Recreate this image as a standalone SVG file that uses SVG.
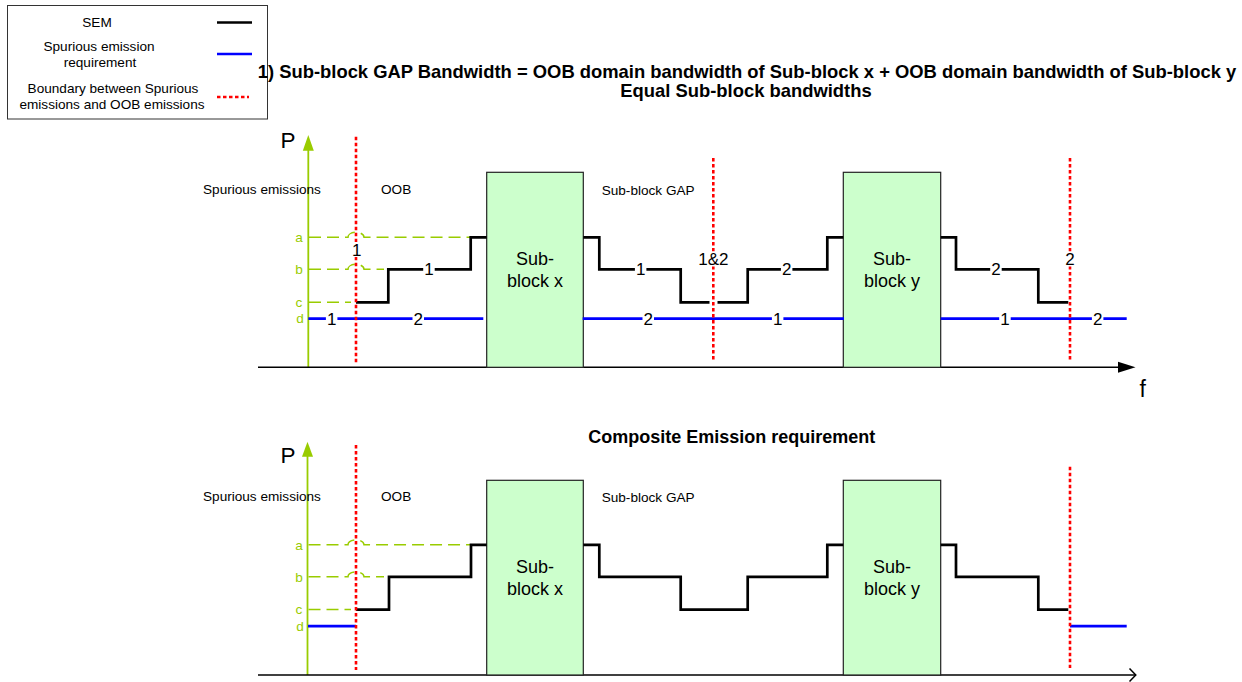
<svg xmlns="http://www.w3.org/2000/svg" width="1242" height="682" viewBox="0 0 1242 682">
<defs>
<style>
text{font-family:"Liberation Sans",Arial,sans-serif;fill:#000}
.lbl{font-size:13.6px}
.lg{font-size:13.6px;text-anchor:middle}
.ttl{font-size:18.4px;font-weight:bold;text-anchor:middle}
.blk{font-size:18px;text-anchor:middle}
.num{font-size:17px;text-anchor:middle}
.lvl{font-size:13.6px;fill:#99cc00;text-anchor:middle}
.ax{font-size:22.5px}
.sem{fill:none;stroke:#000;stroke-width:2.7}
.spur{fill:none;stroke:#0000ff;stroke-width:2.7}
.bnd{fill:none;stroke:#ff0000;stroke-width:2.6;stroke-dasharray:3.5 2.5}
.gd{fill:none;stroke:#99cc00;stroke-width:1.5;stroke-dasharray:12 6}
.gax{fill:none;stroke:#99cc00;stroke-width:1.8}
.xax{fill:none;stroke:#000;stroke-width:1.5}
.box{fill:#ccffcc;stroke:#222;stroke-width:1.2}
.wb{fill:#fff}
</style>
</defs>
<rect width="1242" height="682" fill="#fff"/>

<g id="legend">
<rect x="7.5" y="5.5" width="260" height="113.5" fill="#fff" stroke="#333" stroke-width="1"/>
<text class="lg" x="97" y="26.5">SEM</text>
<text class="lg" x="99" y="50.5">Spurious emission</text>
<text class="lg" x="100" y="66.7">requirement</text>
<text class="lg" x="113" y="93.2">Boundary between Spurious</text>
<text class="lg" x="112" y="109.2">emissions and OOB emissions</text>
<line class="sem" x1="217" y1="22.5" x2="252" y2="22.5"/>
<line class="spur" x1="217" y1="54" x2="252" y2="54"/>
<line class="bnd" x1="217" y1="97" x2="249" y2="97"/>
</g>

<g id="titles">
<text class="ttl" x="747" y="77.5">1) Sub-block GAP Bandwidth = OOB domain bandwidth of Sub-block x + OOB domain bandwidth of Sub-block y</text>
<text class="ttl" x="746" y="97">Equal Sub-block bandwidths</text>
<text class="ttl" x="731.7" y="443" style="font-size:18px">Composite Emission requirement</text>
</g>

<!-- ===== TOP CHART ===== -->
<g id="top-axes">
<line class="gax" x1="308.3" y1="148" x2="308.3" y2="367.3"/>
<polygon points="308.3,135 302.8,150.7 313.8,150.7" fill="#99cc00"/>
<line class="xax" x1="258" y1="367.3" x2="1120" y2="367.3"/>
<polygon points="1135.5,367.3 1118,361.8 1118,372.8" fill="#000"/>
<text class="ax" x="280.5" y="148.3">P</text>
<text class="ax" x="1139.5" y="397" style="font-size:23px">f</text>
<text class="lvl" x="299" y="242">a</text>
<text class="lvl" x="299" y="274">b</text>
<text class="lvl" x="299" y="307">c</text>
<text class="lvl" x="300" y="323.4">d</text>
</g>

<g id="top-regions">
<text class="lbl" x="203" y="193.5">Spurious emissions</text>
<text class="lbl" x="381" y="193.5">OOB</text>
<text class="lbl" x="601.7" y="195">Sub-block GAP</text>
</g>

<g id="top-block-x">
<rect class="box" x="486.7" y="172.3" width="96.6" height="195"/>
<text class="blk" x="535" y="265">Sub-</text>
<text class="blk" x="535" y="287">block x</text>
</g>
<g id="top-block-y">
<rect class="box" x="843.3" y="172.3" width="97.4" height="195"/>
<text class="blk" x="892" y="265">Sub-</text>
<text class="blk" x="892" y="287">block y</text>
</g>

<g id="top-connectors">
<path class="gd" d="M309,237.3 H348 A8,5 0 0 1 364,237.3 H471"/>
<path class="gd" d="M309,269.3 H348 A8,5 0 0 1 364,269.3 H384"/>
<path class="gd" d="M309,302.3 H351"/>
<path class="spur" d="M308.3,318.7 H483.3"/>
<path class="spur" d="M582.7,318.7 H844"/>
<path class="spur" d="M940.7,318.7 H1126.7"/>
<path class="sem" d="M356,302.3 H388.3 V269.3 H470.7 V237.3 H486.7"/>
<path class="sem" d="M583.3,237.3 H599.3 V269.3 H680.7 V302.3 H747.7 V269.3 H827.3 V237.3 H843.3"/>
<path class="sem" d="M940.7,237.3 H956 V269.3 H1038.3 V302.3 H1068.3"/>
<rect class="wb" x="709.5" y="299" width="8" height="7"/>
<line class="bnd" x1="356" y1="136.7" x2="356" y2="363.3"/>
<line class="bnd" x1="713.3" y1="158" x2="713.3" y2="360"/>
<line class="bnd" x1="1070" y1="158" x2="1070" y2="360"/>
</g>

<g id="top-labels">
<rect class="wb" x="351" y="242" width="11.5" height="15"/><text class="num" x="356.7" y="255.8">1</text>
<rect class="wb" x="423.2" y="262" width="11.5" height="15"/><text class="num" x="429" y="275.4">1</text>
<rect class="wb" x="634.9" y="262" width="11.5" height="15"/><text class="num" x="640.7" y="275.4">1</text>
<rect class="wb" x="698" y="251.5" width="31" height="15"/><text class="num" x="713.3" y="265.4">1&amp;2</text>
<rect class="wb" x="780.9" y="262" width="11.5" height="15"/><text class="num" x="786.7" y="275.4">2</text>
<rect class="wb" x="990.2" y="262" width="11.5" height="15"/><text class="num" x="996" y="275.4">2</text>
<rect class="wb" x="1064.2" y="251.5" width="11.5" height="15"/><text class="num" x="1070" y="265.4">2</text>
<rect class="wb" x="325.9" y="311.5" width="11.5" height="15"/><text class="num" x="331.7" y="324.8">1</text>
<rect class="wb" x="412.5" y="311.5" width="11.5" height="15"/><text class="num" x="418.3" y="324.8">2</text>
<rect class="wb" x="642.5" y="311.5" width="11.5" height="15"/><text class="num" x="648.3" y="324.8">2</text>
<rect class="wb" x="771.9" y="311.5" width="11.5" height="15"/><text class="num" x="777.7" y="324.8">1</text>
<rect class="wb" x="999.2" y="311.5" width="11.5" height="15"/><text class="num" x="1005" y="324.8">1</text>
<rect class="wb" x="1091.9" y="311.5" width="11.5" height="15"/><text class="num" x="1097.7" y="324.8">2</text>
</g>

<!-- ===== BOTTOM CHART ===== -->
<g id="bottom-axes">
<line class="gax" x1="307.5" y1="455" x2="307.5" y2="675"/>
<polygon points="307.5,441.7 302,456.7 313,456.7" fill="#99cc00"/>
<line class="xax" x1="258" y1="675" x2="1135" y2="675"/>
<polyline points="1129.5,668.5 1135.8,675 1129.5,681.5" fill="none" stroke="#000" stroke-width="1.5"/>
<text class="ax" x="280.5" y="462.7">P</text>
<text class="lvl" x="299" y="549.6">a</text>
<text class="lvl" x="299" y="581.5">b</text>
<text class="lvl" x="299" y="614.3">c</text>
<text class="lvl" x="300" y="630.8">d</text>
</g>

<g id="bottom-regions">
<text class="lbl" x="203" y="501">Spurious emissions</text>
<text class="lbl" x="381" y="501">OOB</text>
<text class="lbl" x="601.7" y="501.5">Sub-block GAP</text>
</g>

<g id="bottom-block-x">
<rect class="box" x="486.7" y="480.3" width="96.6" height="194.7"/>
<text class="blk" x="535" y="573.3">Sub-</text>
<text class="blk" x="535" y="595">block x</text>
</g>
<g id="bottom-block-y">
<rect class="box" x="843.3" y="480.3" width="97.4" height="194.7"/>
<text class="blk" x="892" y="573.3">Sub-</text>
<text class="blk" x="892" y="595">block y</text>
</g>

<g id="bottom-connectors">
<path class="gd" d="M308.5,544.8 H348 A8,5 0 0 1 364,544.8 H471"/>
<path class="gd" d="M308.5,576.8 H348 A8,5 0 0 1 364,576.8 H384"/>
<path class="gd" d="M308.5,609.6 H351"/>
<path class="spur" d="M308,626.2 H356"/>
<path class="spur" d="M1070,626.2 H1126.7"/>
<path class="sem" d="M356,609.6 H389 V576.8 H471 V544.8 H486.7"/>
<path class="sem" d="M583.3,544.8 H599.3 V576.8 H680.7 V609.6 H747.7 V576.8 H827.3 V544.8 H843.3"/>
<path class="sem" d="M940.7,544.8 H956 V576.8 H1038.3 V609.6 H1068.3"/>
<line class="bnd" x1="356" y1="445" x2="356" y2="670"/>
<line class="bnd" x1="1070" y1="466.7" x2="1070" y2="668"/>
</g>
</svg>
